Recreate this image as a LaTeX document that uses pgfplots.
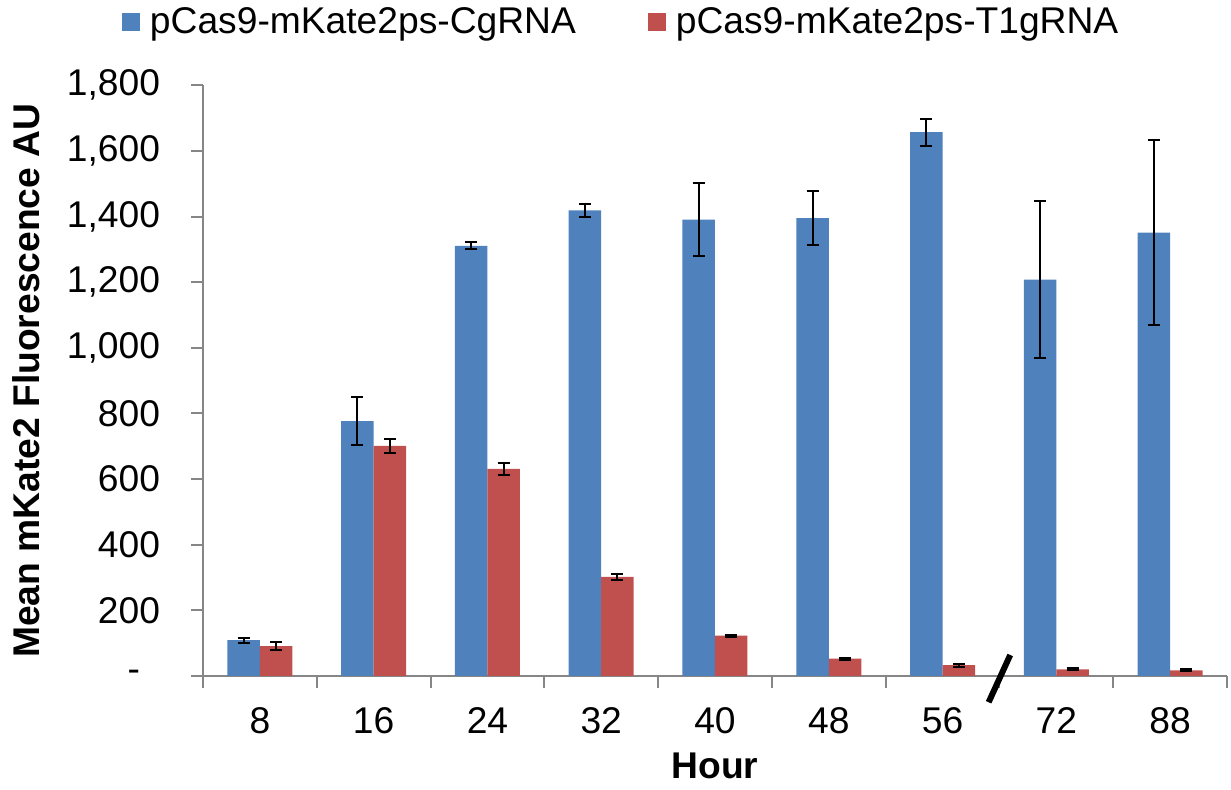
\documentclass[border=0pt]{standalone}
\usepackage{pgfplots}
\pgfplotsset{compat=1.18}
\usepackage{pgfplotstable}
\usepackage{fontspec}
\setmainfont{Liberation Sans}
\definecolor{cblue}{HTML}{4F81BD}
\definecolor{cred}{HTML}{C0504D}
\definecolor{axgray}{HTML}{868686}
\pgfplotstableread{
x b be r re
0 109 7 91 12
1 777 72 701 22
2 1311 10 631 18
3 1419 19 302 10
4 1391 111 123 3
5 1395 83 53 3
6 1657 41 33 5
7 1208 239 20 3
8 1351 282 17 3
}\data
\begin{document}
\begin{tikzpicture}[font=\fontsize{18.6}{22}\selectfont]
\useasboundingbox (-101.5pt,-57pt) rectangle (514pt,338pt);
\begin{axis}[
  at={(0,0)}, anchor=south west, scale only axis,
  width=512pt, height=295.35pt,
  xmin=-0.5, xmax=8.5, ymin=0, ymax=1800,
  clip=false,
  axis x line*=bottom, axis y line*=left,
  axis line style={axgray, line width=1pt, -},
  tick style={axgray, line width=1pt},
  major tick length=5.8pt, tick align=outside,
  xtick={-0.5,0.5,...,8.5},
  x tick label as interval,
  xticklabels={8,16,24,32,40,48,56,72,88},
  ytick={0,200,400,600,800,1000,1200,1400,1600,1800},
  yticklabels={{-\hspace*{10pt}},200,400,600,800,{1,000},{1,200},{1,400},{1,600},{1,800}},
  /pgf/number format/assume math mode=true,
  yticklabel style={anchor=east, inner sep=0pt},
  xticklabel style={anchor=north, inner sep=0pt},
  yticklabel shift=15.5pt,
  xticklabel shift=10pt,
  xlabel={\bfseries Hour},
  ylabel={\bfseries Mean mKate2 Fluorescence AU},
  xlabel style={at={(axis description cs:0.5,-0.1287)}, anchor=north, inner sep=0pt},
  ylabel style={at={(axis description cs:-0.1865,0.5)}, anchor=north, inner sep=0pt},
  ybar, bar width=16.25pt,
  legend columns=2,
  legend style={at={(axis description cs:-0.0791,1.1072)}, anchor=west, draw=none,
    inner sep=0pt, outer sep=0pt, nodes={inner sep=0pt, anchor=west},
    /tikz/every odd column/.append style={column sep=5pt},
    /tikz/every even column/.append style={column sep=36pt}},
  legend image code/.code={\fill[#1, draw=none] (0pt,-4.5pt) rectangle (9pt,4.5pt);},
  error bars/error bar style={black, line width=1pt},
  error bars/error mark options={black, line width=1pt, mark size=3pt, rotate=90},
]
\addplot[ybar, fill=cblue, draw=none, bar shift=-8.125pt,
  error bars/.cd, y dir=both, y explicit]
  table[x=x, y=b, y error=be]{\data};
\addlegendentry{pCas9-mKate2ps-CgRNA}
\addplot[ybar, fill=cred, draw=none, bar shift=8.125pt,
  error bars/.cd, y dir=both, y explicit]
  table[x=x, y=r, y error=re]{\data};
\addlegendentry{pCas9-mKate2ps-T1gRNA}
\draw[black, line width=3pt] (axis cs:6.405,-80) -- (axis cs:6.595,64);
\end{axis}
\end{tikzpicture}
\end{document}
